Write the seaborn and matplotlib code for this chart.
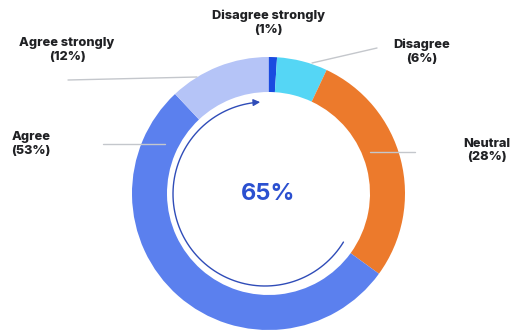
import numpy as np
import matplotlib
matplotlib.use("Agg")
import matplotlib.pyplot as plt
from matplotlib.patches import FancyArrowPatch
from matplotlib.path import Path
import seaborn as sns

# ---- data ----
categories = ["Disagree strongly", "Disagree", "Neutral", "Agree", "Agree strongly"]
values = [1, 6, 28, 53, 12]
colors = ["#1a4be0", "#55d6f5", "#ec7a2c", "#5b80ee", "#b5c4f7"]
center_label = "65%"

sns.set_theme(style="white")
plt.rcParams["font.family"] = ["Inter", "DejaVu Sans"]

W, H = 511, 331
fig = plt.figure(figsize=(W / 100, H / 100), dpi=100)
ax = fig.add_axes([0, 0, 1, 1])

def Y(y):  # image y -> data y
    return H - y

cx, cy = 268.5, Y(193.5)
r_out, r_in = 136.5, 101.5

ax.pie(values, colors=colors, startangle=90, counterclock=False,
       radius=r_out, center=(cx, cy), frame=True,
       wedgeprops=dict(width=r_out - r_in, edgecolor="none", linewidth=0))

ax.set_xlim(0, W)
ax.set_ylim(0, H)
ax.set_aspect("equal")
ax.axis("off")

# leader lines (image coords)
lead_col = "#c4c7cc"
leaders = [((377, 48), (312, 63)),
           ((68, 80), (197, 77)),
           ((103, 144), (165, 144)),
           ((370, 152), (415, 152))]
for (x0, y0), (x1, y1) in leaders:
    ax.plot([x0, x1], [Y(y0), Y(y1)], color=lead_col, lw=1.0, zorder=5)

# labels
label_pos = {"Disagree strongly": (268, 22.5),
             "Disagree": (422, 52),
             "Neutral": (487, 150.5),
             "Agree": (31, 144),
             "Agree strongly": (67, 50)}
for cat, v in zip(categories, values):
    x, y = label_pos[cat]
    ax.text(x, Y(y), f"{cat}\n({v}%)", ha="center", va="center",
            fontsize=9.2, fontweight="heavy", color="#202124", linespacing=1.2)

# center text
ax.text(cx, Y(194), center_label, ha="center", va="center",
        fontsize=17, fontweight="bold", color="#2b50d0")

# circular arrow
acx, acy, ar = 265, Y(194), 92
theta = np.radians(np.linspace(-31.5, -267, 200))
pts = np.column_stack([acx + ar * np.cos(theta), acy + ar * np.sin(theta)])
codes = [Path.MOVETO] + [Path.LINETO] * (len(pts) - 1)
arrow = FancyArrowPatch(path=Path(pts, codes), arrowstyle="-|>,head_length=4,head_width=2",
                        color="#2f4cb8", lw=1.0, mutation_scale=1)
ax.add_patch(arrow)

fig.savefig("out.png", dpi=100)
